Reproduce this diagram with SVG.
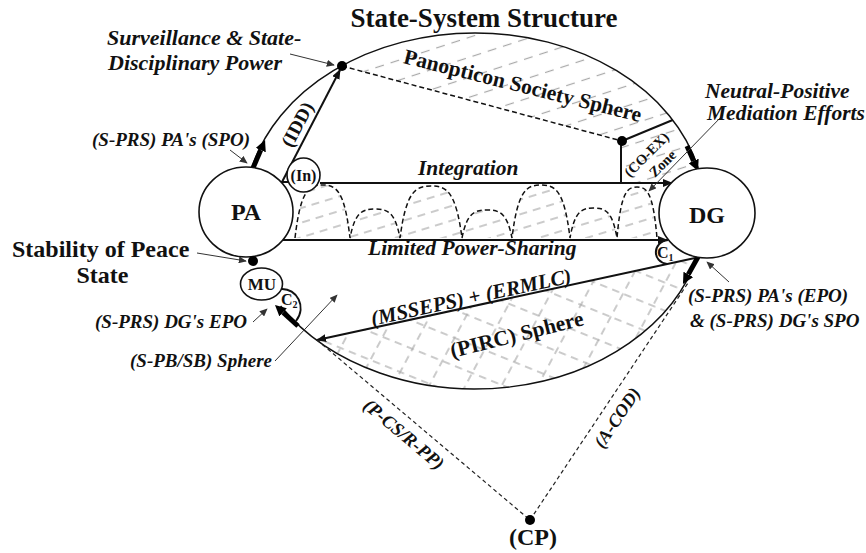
<svg xmlns="http://www.w3.org/2000/svg" width="866" height="553" viewBox="0 0 866 553">
<defs>
<style>
.t{font-family:'Liberation Serif','Times New Roman',serif;font-weight:bold;fill:#111}
.bi{font-style:italic}
.node{fill:#fff;stroke:#111;stroke-width:1.6}
.conn{fill:none;stroke:#111;stroke-width:2}
.dash{fill:none;stroke:#111;stroke-width:1.5;stroke-dasharray:5 3}
.dashT{fill:none;stroke:#222;stroke-width:1.2;stroke-dasharray:4 3}
.arc{fill:none;stroke:#111;stroke-width:1.5}
.thick{fill:none;stroke:#000;stroke-width:5}
.note{fill:none;stroke:#333;stroke-width:1}
.dot{fill:#000}
.hl{stroke:#a8a8a8;stroke-width:1.2}
</style>
<marker id="ah" viewBox="0 0 10 10" refX="9" refY="5" markerWidth="10" markerHeight="8" preserveAspectRatio="none" markerUnits="userSpaceOnUse" orient="auto"><path d="M0,0 L10,5 L0,10 z" fill="#111"/></marker>
<marker id="ahThin" viewBox="0 0 10 10" refX="9" refY="5" markerWidth="8" markerHeight="7" preserveAspectRatio="none" markerUnits="userSpaceOnUse" orient="auto"><path d="M0,0 L10,5 L0,10 z" fill="#333"/></marker>
<marker id="ahThick" viewBox="0 0 10 10" refX="0" refY="5" markerWidth="11" markerHeight="11" preserveAspectRatio="none" markerUnits="userSpaceOnUse" orient="auto"><path d="M0,0 L10,5 L0,10 z" fill="#000"/></marker>
<pattern id="pWave" patternUnits="userSpaceOnUse" width="14" height="14" patternTransform="rotate(-17)"><line class="hl" x1="0" y1="7" x2="8" y2="7"/></pattern>
<pattern id="pPan" patternUnits="userSpaceOnUse" width="16" height="19" patternTransform="rotate(-18)"><line class="hl" x1="0" y1="9.5" x2="9" y2="9.5"/></pattern>
<pattern id="pA" patternUnits="userSpaceOnUse" width="13" height="26" patternTransform="rotate(22)"><line class="hl" x1="0" y1="13" x2="7.5" y2="13"/></pattern>
<pattern id="pB" patternUnits="userSpaceOnUse" width="13" height="32" patternTransform="rotate(-62)"><line class="hl" x1="0" y1="16" x2="7.5" y2="16"/></pattern>
</defs>

<g id="hatching">
<path d="M342,66 L622,141 L672.7,120 A230 178 0 0 0 342,66 Z" fill="url(#pPan)"/>
<path d="M622,141 L672.7,120 A230 178 0 0 1 698.2,168 L671,183 L621,183 Z" fill="url(#pPan)"/>
<path d="M317,340 L697.6,256 A230 178 0 0 1 317,340 Z" fill="url(#pA)"/>
<path d="M317,340 L697.6,256 A230 178 0 0 1 317,340 Z" fill="url(#pB)"/>
<path id="waveFill" d="M295,238 C300.5,190.3 308.75,185 322.5,185 C336.25,185 344.5,190.3 350,238 C355,211.9 362.5,209 375,209 C387.5,209 395,211.9 400,238 C406.2,191.2 415.5,186 431,186 C446.5,186 455.8,191.2 462,238 C467,212.8 474.5,210 487,210 C499.5,210 507,212.8 512,238 C517.8,190.3 526.5,185 541,185 C555.5,185 564.2,190.3 570,238 C574.7,211 581.75,208 593.5,208 C605.25,208 612.3,211 617,238 C621,192.1 627,187 637,187 C647,187 653,192.1 657,238 Z" fill="url(#pWave)"/>
</g>

<g id="connectors">
<path class="arc" d="M251.8,168 A230 178 0 0 1 698.2,168"/>
<path class="arc" d="M280.6,306 A230 178 0 0 0 697.6,256"/>
<path class="dash" d="M295,238 C300.5,190.3 308.75,185 322.5,185 C336.25,185 344.5,190.3 350,238 C355,211.9 362.5,209 375,209 C387.5,209 395,211.9 400,238 C406.2,191.2 415.5,186 431,186 C446.5,186 455.8,191.2 462,238 C467,212.8 474.5,210 487,210 C499.5,210 507,212.8 512,238 C517.8,190.3 526.5,185 541,185 C555.5,185 564.2,190.3 570,238 C574.7,211 581.75,208 593.5,208 C605.25,208 612.3,211 617,238 C621,192.1 627,187 637,187 C647,187 653,192.1 657,238"/>
<line class="dash" x1="342" y1="66" x2="622" y2="141"/>
<line class="conn" x1="622" y1="141" x2="672.7" y2="120"/>
<line class="conn" x1="621" y1="141" x2="621" y2="183"/>
<line class="conn" x1="281" y1="182" x2="288" y2="182"/>
<line class="conn" x1="282" y1="182" x2="340" y2="70" marker-end="url(#ah)"/>
<line class="conn" x1="320" y1="183" x2="672" y2="183" marker-end="url(#ah)"/>
<line class="conn" x1="283" y1="240" x2="667" y2="240" marker-end="url(#ah)"/>
<line class="conn" x1="695" y1="258" x2="317" y2="340" marker-end="url(#ah)"/>
<line class="dashT" x1="317" y1="340" x2="530" y2="520"/>
<line class="dashT" x1="530" y1="520" x2="688" y2="283"/>
<path class="conn" stroke-width="1.6" d="M668,240 C652,242 652,262 667,264"/>
<path class="conn" stroke-width="1.6" d="M281,289 C297,288 307,307 296,321"/>
<line class="thick" x1="253" y1="168" x2="260.7" y2="150.1" marker-end="url(#ahThick)"/>
<line class="thick" x1="687" y1="146" x2="693.6" y2="160.9" marker-end="url(#ahThick)"/>
<line class="thick" x1="698" y1="257" x2="688.3" y2="274.4" marker-end="url(#ahThick)"/>
<line class="thick" x1="298" y1="326" x2="283.1" y2="312.4" marker-end="url(#ahThick)"/>
<line class="note" x1="290" y1="54" x2="334" y2="65" marker-end="url(#ahThin)"/>
<line class="note" x1="230" y1="150" x2="247" y2="163" marker-end="url(#ahThin)"/>
<line class="note" x1="723" y1="115" x2="649" y2="191" marker-end="url(#ahThin)"/>
<line class="note" x1="197" y1="253" x2="246" y2="261" marker-end="url(#ahThin)"/>
<line class="note" x1="253" y1="322" x2="267" y2="309" marker-end="url(#ahThin)"/>
<line class="note" x1="275" y1="361" x2="337" y2="295" marker-end="url(#ahThin)"/>
<line class="note" x1="729" y1="282" x2="707" y2="262" marker-end="url(#ahThin)"/>
</g>

<g id="PA"><ellipse class="node" cx="246" cy="212" rx="47" ry="45"/><text class="t" x="246" y="220" font-size="24" text-anchor="middle">PA</text></g>
<g id="DG"><ellipse class="node" cx="707" cy="213" rx="48" ry="45"/><text class="t" x="707" y="223" font-size="24" text-anchor="middle">DG</text></g>
<g id="MU"><ellipse class="node" cx="261.5" cy="284" rx="21" ry="16"/><text class="t" x="262" y="290" font-size="17" text-anchor="middle">MU</text></g>
<g id="In"><ellipse class="node" cx="303.5" cy="175" rx="16.5" ry="17"/><text class="t" x="303.5" y="181" font-size="16" text-anchor="middle">(In)</text></g>
<g id="dots">
<circle class="dot" cx="342" cy="66" r="5"/>
<circle class="dot" cx="622" cy="141" r="5"/>
<circle class="dot" cx="253" cy="261" r="5"/>
</g>
<g id="CP"><circle class="dot" cx="530" cy="520" r="5"/><text class="t" x="533" y="545" font-size="24" text-anchor="middle">(CP)</text></g>

<g id="labels">
<text class="t" x="484" y="27" font-size="27" text-anchor="middle">State-System Structure</text>
<text class="t bi" x="107" y="45" font-size="22">Surveillance &amp; State-</text>
<text class="t bi" x="108" y="70" font-size="22">Disciplinary Power</text>
<text class="t bi" x="92" y="146" font-size="19">(S-PRS) PA's (SPO)</text>
<text class="t bi" x="705" y="98" font-size="21.5">Neutral-Positive</text>
<text class="t bi" x="707" y="120" font-size="21.5">Mediation Efforts</text>
<text class="t bi" x="418" y="175" font-size="21.5">Integration</text>
<text class="t bi" x="368" y="255" font-size="21.5">Limited Power-Sharing</text>
<text class="t" x="12" y="257" font-size="24">Stability of Peace</text>
<text class="t" x="102.5" y="283" font-size="24" text-anchor="middle">State</text>
<text class="t bi" x="95" y="328" font-size="19">(S-PRS) DG's EPO</text>
<text class="t bi" x="272" y="367" font-size="19" text-anchor="end">(S-PB/SB) Sphere</text>
<text class="t bi" x="688" y="302" font-size="19">(S-PRS) PA's (EPO)</text>
<text class="t bi" x="690" y="327" font-size="19">&amp; (S-PRS) DG's SPO</text>
<text class="t bi" font-size="21" text-anchor="middle" transform="translate(472.5,304) rotate(-12.3)">(MSSEPS) + (ERMLC)</text>
<text class="t" font-size="21.5" text-anchor="middle" transform="translate(518.5,341.5) rotate(-14)">(PIRC) Sphere</text>
<text class="t" font-size="21.5" text-anchor="middle" transform="translate(521,92.5) rotate(14)">Panopticon Society Sphere</text>
<text class="t bi" font-size="18.5" text-anchor="middle" transform="translate(400,439) rotate(40)">(P-CS/R-PP)</text>
<text class="t bi" font-size="18" text-anchor="middle" transform="translate(622,421) rotate(-56)">(A-COD)</text>
<text class="t" font-size="19" text-anchor="middle" transform="translate(303,127.5) rotate(-62)">(IDD)</text>
<text class="t" font-size="14.5" text-anchor="middle" transform="translate(650,158) rotate(-45)">(CO-EX)</text>
<text class="t" font-size="14.5" text-anchor="middle" transform="translate(666,167) rotate(-45)">Zone</text>
<text class="t" x="657" y="258" font-size="16">C<tspan font-size="10" dy="3">1</tspan></text>
<text class="t" x="281" y="305" font-size="16">C<tspan font-size="10" dy="3">2</tspan></text>
</g>
</svg>
